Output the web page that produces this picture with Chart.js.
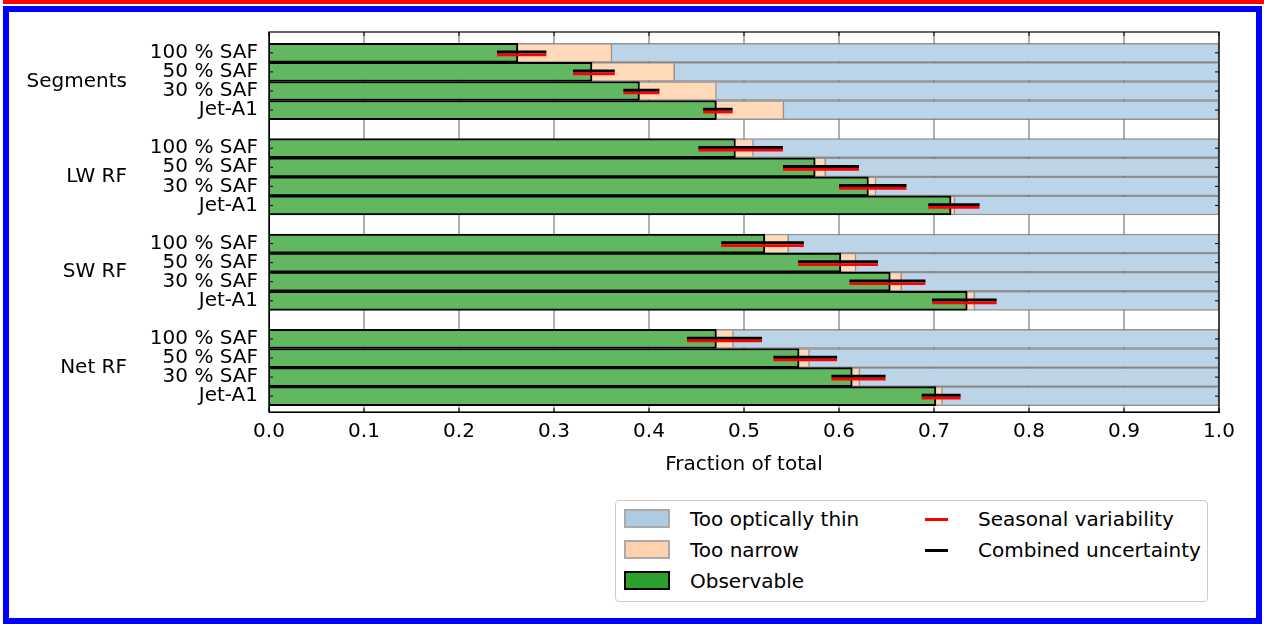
<!DOCTYPE html>
<html>
<head>
<meta charset="utf-8">
<script src="https://cdn.jsdelivr.net/npm/chart.js@4.4.0/dist/chart.umd.min.js"></script>
<style>
  html, body { margin: 0; padding: 0; background: #fff; }
  body { width: 1264px; height: 624px; position: relative; overflow: hidden; font-family: 'DejaVu Sans', sans-serif; }
  #topline { position: absolute; left: 3px; top: 0; width: 1261px; height: 4px; background: #ff0000; }
  #frame { position: absolute; left: 3px; top: 6px; width: 1247px; height: 606px; border: 6px solid #0000ff; }
  canvas { position: absolute; left: 0; top: 0; }
  #legend { position: absolute; left: 615px; top: 500px; width: 593px; height: 102px; box-sizing: border-box;
            border: 1.5px solid #cccccc; border-radius: 4px; background: #fff; }
  .patch { position: absolute; left: 8px; width: 46px; height: 19px; box-sizing: border-box; border: 2px solid #aaaaaa; }
  .dash { position: absolute; left: 309px; width: 23px; height: 3px; }
  .txt { position: absolute; font-size: 20px; line-height: 24px; color: #000; white-space: nowrap; }
</style>
</head>
<body>
<div id="topline"></div>
<div id="frame"></div>
<canvas id="chart" width="1264" height="624"></canvas>
<div id="legend">
  <div class="patch" style="top:8px;background:#aecbe3;"></div>
  <div class="txt" style="left:74px;top:6px;">Too optically thin</div>
  <div class="patch" style="top:39px;background:#ffd2ad;"></div>
  <div class="txt" style="left:74px;top:37px;">Too narrow</div>
  <div class="patch" style="top:70px;background:#2ca02c;border-color:#000;"></div>
  <div class="txt" style="left:74px;top:68px;">Observable</div>
  <div class="dash" style="top:17px;background:#ff0000;"></div>
  <div class="txt" style="left:362px;top:6px;">Seasonal variability</div>
  <div class="dash" style="top:48px;background:#000;"></div>
  <div class="txt" style="left:362px;top:37px;">Combined uncertainty</div>
</div>
<script>
// Gruppen und Szenarien (von oben nach unten)
const groups = ['Segments', 'LW RF', 'SW RF', 'Net RF'];
const scenarios = ['100 % SAF', '50 % SAF', '30 % SAF', 'Jet-A1'];

// Anteile je Zeile (Gruppe x Szenario)
const observable = [0.262, 0.340, 0.390, 0.471, 0.491, 0.575, 0.631, 0.718,
                    0.522, 0.602, 0.654, 0.735, 0.471, 0.558, 0.614, 0.702];
const tooNarrow = [0.099, 0.087, 0.081, 0.071, 0.019, 0.011, 0.008, 0.004,
                   0.025, 0.016, 0.012, 0.008, 0.018, 0.011, 0.008, 0.007];
const tooThin = [0.639, 0.573, 0.529, 0.458, 0.490, 0.414, 0.361, 0.278,
                 0.453, 0.382, 0.334, 0.257, 0.511, 0.431, 0.378, 0.291];

// Unsicherheiten (untere / obere Grenze)
const combinedLo = [0.240, 0.320, 0.373, 0.457, 0.452, 0.541, 0.600, 0.694,
                    0.476, 0.557, 0.611, 0.698, 0.440, 0.531, 0.592, 0.687];
const combinedHi = [0.292, 0.364, 0.411, 0.488, 0.541, 0.621, 0.671, 0.748,
                    0.563, 0.641, 0.691, 0.766, 0.519, 0.598, 0.649, 0.728];
const seasonalLo = [0.240, 0.320, 0.373, 0.457, 0.452, 0.541, 0.600, 0.694,
                    0.476, 0.557, 0.611, 0.698, 0.440, 0.531, 0.592, 0.687];
const seasonalHi = [0.292, 0.364, 0.411, 0.488, 0.541, 0.621, 0.671, 0.748,
                    0.563, 0.641, 0.691, 0.766, 0.519, 0.598, 0.649, 0.728];

const xTicks = [0, 0.1, 0.2, 0.3, 0.4, 0.5, 0.6, 0.7, 0.8, 0.9, 1.0];

// Zeilenpositionen: eine leere Zeile zwischen den Gruppen
const rowIndex = [];
const rowLabels = [];
groups.forEach((g, gi) => {
    scenarios.forEach((s, si) => {
        rowIndex.push(gi * (scenarios.length + 1) + si);
    });
});
for (let i = 0; i <= rowIndex[rowIndex.length - 1]; i++) rowLabels.push('');
rowIndex.forEach((r, i) => { rowLabels[r] = scenarios[i % scenarios.length]; });

const toPoints = arr => arr.map((v, i) => ({ x: v, y: rowIndex[i] }));

const FONT = "'DejaVu Sans', sans-serif";
Chart.defaults.font.family = FONT;
Chart.defaults.font.size = 20;
Chart.defaults.color = '#000';

// Fehlerbalken, Rahmen, Ticks und Gruppenbeschriftung
const overlay = {
    id: 'overlay',
    afterDraw(chart) {
        const { ctx, chartArea: a, scales: { x, y } } = chart;
        ctx.save();
        ctx.lineCap = 'butt';
        rowIndex.forEach((r, i) => {
            const c = y.getPixelForValue(r);
            ctx.strokeStyle = '#000';
            ctx.lineWidth = 3;
            ctx.beginPath();
            ctx.moveTo(x.getPixelForValue(combinedLo[i]), c - 0.8);
            ctx.lineTo(x.getPixelForValue(combinedHi[i]), c - 0.8);
            ctx.stroke();
            ctx.strokeStyle = '#ff0000';
            ctx.lineWidth = 2.7;
            ctx.beginPath();
            ctx.moveTo(x.getPixelForValue(seasonalLo[i]), c + 2);
            ctx.lineTo(x.getPixelForValue(seasonalHi[i]), c + 2);
            ctx.stroke();
        });

        // Rahmen
        ctx.strokeStyle = '#000';
        ctx.lineWidth = 1.2;
        ctx.strokeRect(a.left, a.top, a.right - a.left, a.bottom - a.top);

        // Ticks nach innen
        ctx.lineWidth = 1;
        ctx.beginPath();
        xTicks.forEach(v => {
            const px = x.getPixelForValue(v);
            ctx.moveTo(px, a.bottom); ctx.lineTo(px, a.bottom - 4);
            ctx.moveTo(px, a.top); ctx.lineTo(px, a.top + 4);
        });
        rowIndex.forEach(r => {
            const py = y.getPixelForValue(r);
            ctx.moveTo(a.left, py); ctx.lineTo(a.left + 4, py);
            ctx.moveTo(a.right, py); ctx.lineTo(a.right - 4, py);
        });
        ctx.stroke();

        // Gruppennamen
        ctx.fillStyle = '#000';
        ctx.font = '20px ' + FONT;
        ctx.textAlign = 'right';
        ctx.textBaseline = 'middle';
        groups.forEach((g, gi) => {
            const mid = gi * (scenarios.length + 1) + (scenarios.length - 1) / 2;
            ctx.fillText(g, 127, y.getPixelForValue(mid));
        });
        ctx.restore();
    }
};

new Chart(document.getElementById('chart'), {
    type: 'bar',
    data: {
        datasets: [
            {
                label: 'Observable',
                data: toPoints(observable),
                backgroundColor: '#61b861',
                borderColor: '#000',
                borderWidth: 2
            },
            {
                label: 'Too narrow',
                data: toPoints(tooNarrow),
                backgroundColor: '#ffd9b8',
                borderColor: 'rgba(120,120,120,0.8)',
                borderWidth: 1.5
            },
            {
                label: 'Too optically thin',
                data: toPoints(tooThin),
                backgroundColor: '#bcd4e7',
                borderColor: 'rgba(120,120,120,0.8)',
                borderWidth: 1.5
            }
        ]
    },
    options: {
        indexAxis: 'y',
        responsive: false,
        animation: false,
        events: [],
        layout: { padding: { left: 0, right: 45, top: 32, bottom: 146 } },
        datasets: { bar: { barPercentage: 1, categoryPercentage: 1 } },
        plugins: { legend: { display: false }, tooltip: { enabled: false } },
        scales: {
            x: {
                type: 'linear',
                stacked: true,
                min: 0,
                max: 1,
                z: 1,
                afterBuildTicks: axis => { axis.ticks = xTicks.map(v => ({ value: v })); },
                afterFit: axis => { axis.height = 66; },
                ticks: { padding: 8, callback: v => Number(v).toFixed(1) },
                grid: { color: '#b0b0b0', lineWidth: 2, drawTicks: false },
                border: { display: true, color: '#000', width: 1 },
                title: { display: true, text: 'Fraction of total', font: { size: 20 }, padding: { top: 7, bottom: 1 } }
            },
            y: {
                type: 'linear',
                stacked: true,
                reverse: true,
                offset: false,
                min: -1.093,
                max: 18.83,
                afterBuildTicks: axis => { axis.ticks = rowLabels.map((l, i) => ({ value: i })); },
                afterFit: axis => { axis.width = 269; },
                ticks: { autoSkip: false, padding: 11, callback: v => rowLabels[v] || '' },
                grid: { display: false, drawTicks: false, offset: false },
                border: { display: true, color: '#000', width: 1 }
            }
        }
    },
    plugins: [overlay]
});
</script>
</body>
</html>
